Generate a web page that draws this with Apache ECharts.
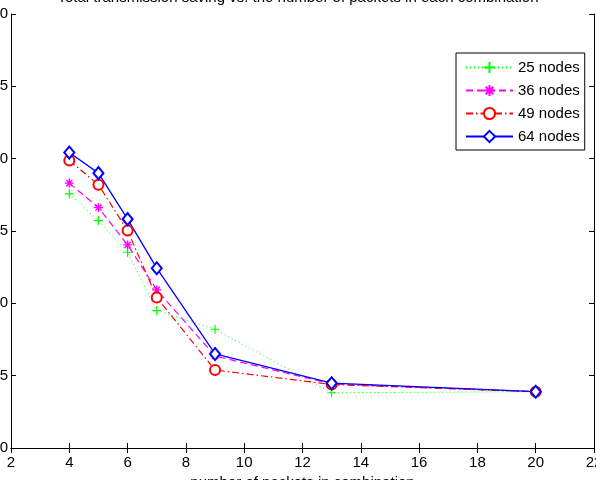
<!DOCTYPE html>
<html>
<head>
<meta charset="utf-8">
<script src="https://cdn.jsdelivr.net/npm/echarts@6/dist/echarts.min.js"></script>
<style>html,body{margin:0;padding:0;background:#fff;}#c{width:596px;height:480px;}</style>
</head>
<body>
<div id="c"></div>
<script>
// ---- data ----
const titleText = "Total transmission saving vs. the number of packets in each combination";
const xName = "number of packets in combination";
const packets = [4, 5, 6, 7, 9, 13, 20];
const nodes25 = [17.57, 15.72, 13.53, 9.50, 8.21, 3.82, 3.89];
const nodes36 = [18.31, 16.62, 14.04, 10.93, 6.36, 4.43, 3.89];
const nodes49 = [19.87, 18.19, 15.03, 10.40, 5.39, 4.39, 3.89];
const nodes64 = [20.42, 19.00, 15.82, 12.43, 6.50, 4.48, 3.89];
const seriesNames = ["25 nodes", "36 nodes", "49 nodes", "64 nodes"];
const xMin = 2, xMax = 22, xStep = 2;
const yMin = 0, yMax = 30, yStep = 5;

const font = "Liberation Sans, Arial, Helvetica, sans-serif";
const pair = arr => packets.map((x, i) => [x, arr[i]]);

const plusPath = 'path://M5,0L5,10M0,5L10,5';
const starPath = 'path://M5,0L5,10M0,5L10,5M1.6,1.6L8.4,8.4M1.6,8.4L8.4,1.6';

const chart = echarts.init(document.getElementById('c'), null, {renderer: 'canvas'});
const axisCommon = {
  axisLine: {show: true, lineStyle: {color: '#000', width: 1}},
  axisTick: {show: true, inside: true, length: 5, lineStyle: {color: '#000'}},
  splitLine: {show: false}
};
chart.setOption({
  backgroundColor: '#fff',
  animation: false,
  title: {
    text: titleText, left: 'center', top: -15,
    textStyle: {fontFamily: font, fontSize: 15, fontWeight: 'normal', color: '#000'}
  },
  grid: {left: 11, right: 2, top: 14, bottom: 32, containLabel: false, outerBoundsMode: 'none'},
  legend: {
    orient: 'vertical', left: 456, top: 53,
    padding: [7, 5, 6, 9], itemGap: 8, itemWidth: 47, itemHeight: 14,
    borderColor: '#000', borderWidth: 1, backgroundColor: '#fff',
    textStyle: {fontFamily: font, fontSize: 15, color: '#000'},
    data: seriesNames
  },
  xAxis: [
    Object.assign({}, axisCommon, {
      type: 'value', min: xMin, max: xMax, interval: xStep, position: 'bottom',
      name: xName, nameLocation: 'middle', nameGap: 25,
      nameTextStyle: {fontFamily: font, fontSize: 15, color: '#000'},
      axisLabel: {fontFamily: font, fontSize: 15, color: '#000', margin: 7}
    }),
    Object.assign({}, axisCommon, {
      type: 'value', min: xMin, max: xMax, interval: xStep, position: 'top',
      axisLabel: {show: false}
    })
  ],
  yAxis: [
    Object.assign({}, axisCommon, {
      type: 'value', min: yMin, max: yMax, interval: yStep, position: 'left',
      axisLabel: {fontFamily: font, fontSize: 15, color: '#000', margin: 3}
    }),
    Object.assign({}, axisCommon, {
      type: 'value', min: yMin, max: yMax, interval: yStep, position: 'right',
      axisLabel: {show: false}
    })
  ],
  series: [
    {
      name: seriesNames[0], type: 'line', data: pair(nodes25),
      symbol: plusPath, symbolSize: 9, showAllSymbol: true,
      itemStyle: {color: '#00ff00', borderColor: '#00ff00', borderWidth: 1.2},
      lineStyle: {color: '#00ff00', width: 1, type: [1, 3]}
    },
    {
      name: seriesNames[1], type: 'line', data: pair(nodes36),
      symbol: starPath, symbolSize: 9, showAllSymbol: true,
      itemStyle: {color: '#ff00ff', borderColor: '#ff00ff', borderWidth: 1.4},
      lineStyle: {color: '#ff00ff', width: 1.2, type: [7, 4]}
    },
    {
      name: seriesNames[2], type: 'line', data: pair(nodes49),
      symbol: 'emptyCircle', symbolSize: 10, showAllSymbol: true,
      itemStyle: {color: '#ff0000', borderColor: '#ff0000', borderWidth: 1},
      lineStyle: {color: '#ff0000', width: 1.2, type: [7, 3, 1.5, 3]}
    },
    {
      name: seriesNames[3], type: 'line', data: pair(nodes64),
      symbol: 'emptyDiamond', symbolSize: [10, 12], showAllSymbol: true,
      itemStyle: {color: '#0000ff', borderColor: '#0000ff', borderWidth: 1},
      lineStyle: {color: '#0000ff', width: 1.3, type: 'solid'}
    }
  ]
});
</script>
</body>
</html>
